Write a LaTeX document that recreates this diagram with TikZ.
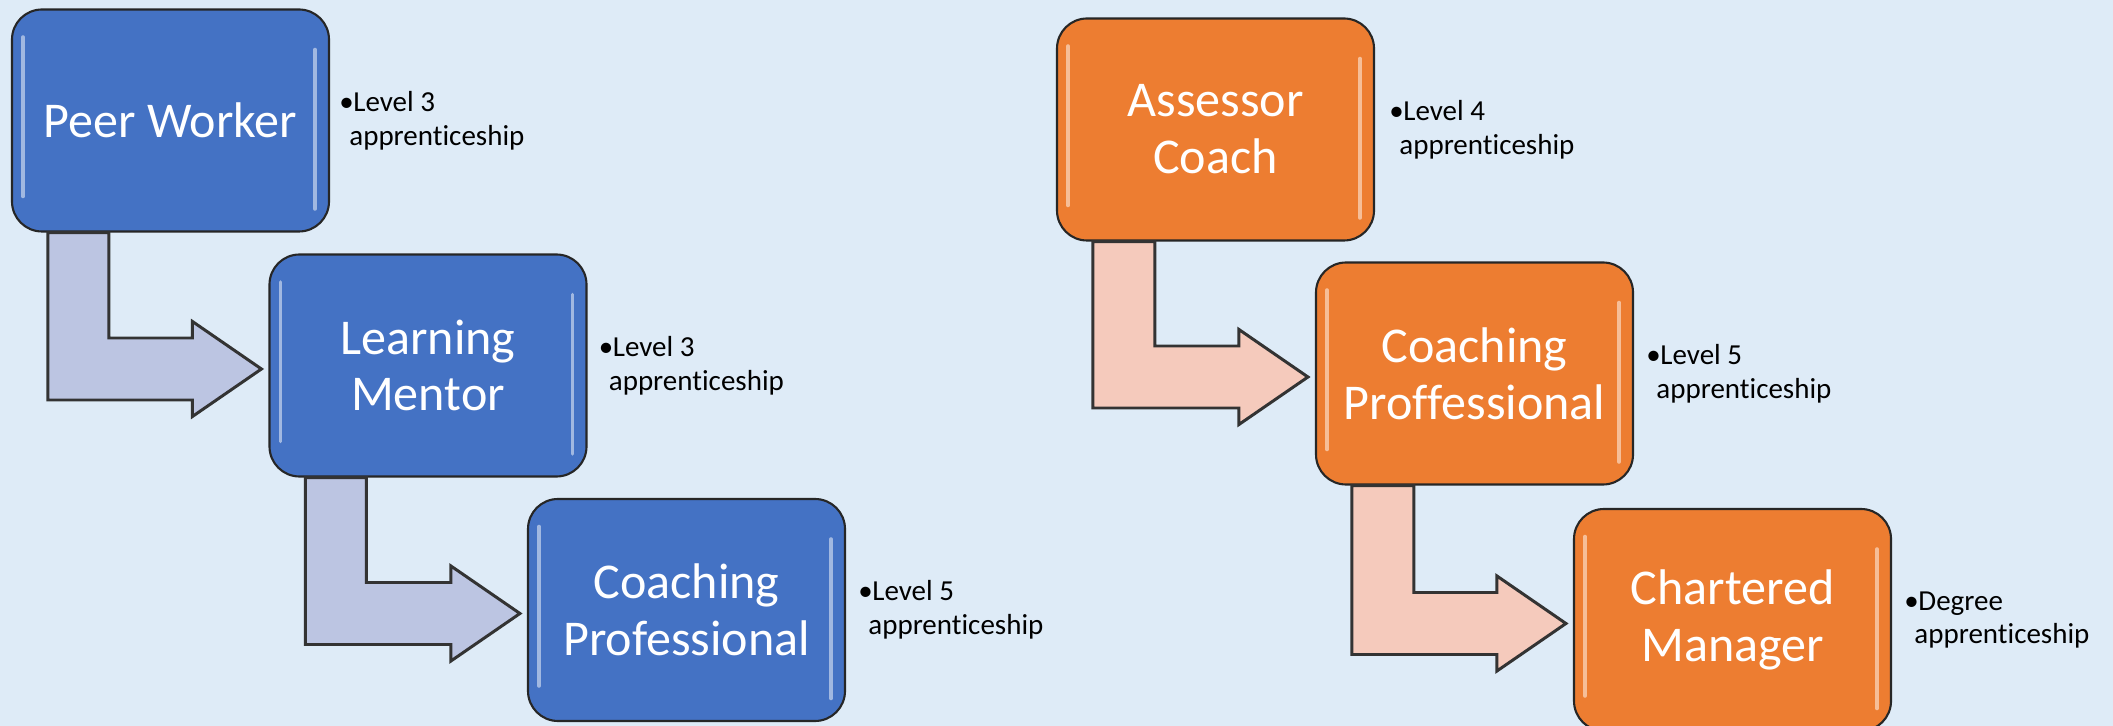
\documentclass[tikz,border=0pt]{standalone}
\usepackage{fontspec}
\setmainfont{Carlito}[Ligatures=NoCommon]
\usetikzlibrary{positioning}
\usetikzlibrary{calc}
\definecolor{paneblue}{HTML}{DEEBF7}
\definecolor{boxblue}{HTML}{4472C4}
\definecolor{boxorange}{HTML}{ED7D31}
\definecolor{arrowblue}{HTML}{BCC5E2}
\definecolor{arroworange}{HTML}{F5CABC}

\begin{document}
\begin{tikzpicture}[
  stage/.style={rectangle,rounded corners=0.6cm,draw=black!85,line width=1.2pt,
    minimum width=6.34cm,minimum height=4.44cm,inner sep=0pt,text=white,align=center,
    font=\fontsize{28.5}{32.3}\selectfont,
    path picture={
      \draw[white,opacity=0.5,line width=2pt,line cap=round]
        ($(path picture bounding box.north west)+(0.22,-0.55)$) -- ($(path picture bounding box.south west)+(0.22,0.7)$);
      \draw[white,opacity=0.5,line width=2pt,line cap=round]
        ($(path picture bounding box.north east)+(-0.28,-0.8)$) -- ($(path picture bounding box.south east)+(-0.28,0.45)$);
    }},
  note/.style={inner sep=0pt,align=left,font=\fontsize{16.5}{19.3}\selectfont},
  elbow/.style={draw=black!80,line width=1.7pt,line join=miter},
]
\useasboundingbox (0,0) rectangle (42.26,14.52);
\clip (0,0) rectangle (42.26,14.52);
\fill[paneblue] (0,0) rectangle (42.26,14.52);

% blue track
\node[stage,fill=boxblue] (pw) at (3.41,12.11) {Peer Worker};
\node[stage,fill=boxblue] (lm) at (8.56,7.21) {Learning\\Mentor};
\node[stage,fill=boxblue] (cp) at (13.73,2.32) {Coaching\\Professional};

% orange track
\node[stage,fill=boxorange] (ac) at (24.31,11.93) {Assessor\\Coach};
\node[stage,fill=boxorange] (cpo) at (29.49,7.05) {Coaching\\Proffessional};
\node[stage,fill=boxorange] (cm) at (34.65,2.12) {Chartered\\Manager};

% level notes
\node[note,right=0.18cm of pw] (pwnote) {\makebox[0.28cm][l]{\textbullet}Level 3\\\hspace*{0.2cm}apprenticeship};
\node[note,right=0.22cm of lm] (lmnote) {\makebox[0.28cm][l]{\textbullet}Level 3\\\hspace*{0.2cm}apprenticeship};
\node[note,right=0.24cm of cp] (cpnote) {\makebox[0.28cm][l]{\textbullet}Level 5\\\hspace*{0.2cm}apprenticeship};
\node[note,right=0.28cm of ac] (acnote) {\makebox[0.28cm][l]{\textbullet}Level 4\\\hspace*{0.2cm}apprenticeship};
\node[note,right=0.24cm of cpo] (cponote) {\makebox[0.28cm][l]{\textbullet}Level 5\\\hspace*{0.2cm}apprenticeship};
\node[note,right=0.24cm of cm] (cmnote) {\makebox[0.28cm][l]{\textbullet}Degree\\\hspace*{0.2cm}apprenticeship};

% bent arrows
\coordinate (s1) at ($(pw.south west)+(0.74,0)$);
\coordinate (t1) at ($(lm.west)+(-0.14,-0.07)$);
\draw[elbow,fill=arrowblue] (s1) -- ($(s1 |- t1)+(0,-0.62)$) -- ($(t1)+(-1.38,-0.62)$) -- ($(t1)+(-1.38,-0.95)$) -- (t1)
  -- ($(t1)+(-1.38,0.95)$) -- ($(t1)+(-1.38,0.62)$) -- ($(s1 |- t1)+(1.22,0.62)$) -- ($(s1)+(1.22,0)$) -- cycle;

\coordinate (s2) at ($(lm.south west)+(0.74,0)$);
\coordinate (t2) at ($(cp.west)+(-0.14,-0.07)$);
\draw[elbow,fill=arrowblue] (s2) -- ($(s2 |- t2)+(0,-0.62)$) -- ($(t2)+(-1.38,-0.62)$) -- ($(t2)+(-1.38,-0.95)$) -- (t2)
  -- ($(t2)+(-1.38,0.95)$) -- ($(t2)+(-1.38,0.62)$) -- ($(s2 |- t2)+(1.22,0.62)$) -- ($(s2)+(1.22,0)$) -- cycle;

\coordinate (s3) at ($(ac.south west)+(0.74,0)$);
\coordinate (t3) at ($(cpo.west)+(-0.14,-0.07)$);
\draw[elbow,fill=arroworange] (s3) -- ($(s3 |- t3)+(0,-0.62)$) -- ($(t3)+(-1.38,-0.62)$) -- ($(t3)+(-1.38,-0.95)$) -- (t3)
  -- ($(t3)+(-1.38,0.95)$) -- ($(t3)+(-1.38,0.62)$) -- ($(s3 |- t3)+(1.24,0.62)$) -- ($(s3)+(1.24,0)$) -- cycle;

\coordinate (s4) at ($(cpo.south west)+(0.74,0)$);
\coordinate (t4) at ($(cm.west)+(-0.14,-0.07)$);
\draw[elbow,fill=arroworange] (s4) -- ($(s4 |- t4)+(0,-0.62)$) -- ($(t4)+(-1.38,-0.62)$) -- ($(t4)+(-1.38,-0.95)$) -- (t4)
  -- ($(t4)+(-1.38,0.95)$) -- ($(t4)+(-1.38,0.62)$) -- ($(s4 |- t4)+(1.24,0.62)$) -- ($(s4)+(1.24,0)$) -- cycle;

\end{tikzpicture}
\end{document}
